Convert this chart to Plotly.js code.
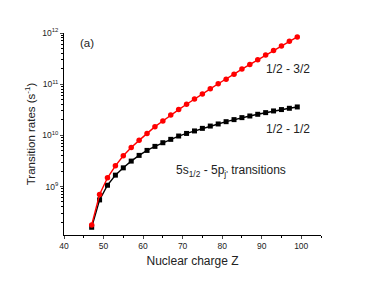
<!DOCTYPE html>
<html><head><meta charset="utf-8">
<script src="https://cdn.plot.ly/plotly-3.0.1.min.js"></script>
<style>html,body{margin:0;padding:0;background:#fff}</style>
</head><body><div id="g" style="width:374px;height:286px"></div>
<script>
const Z = [47,49,51,53,55,57,59,61,63,65,67,69,71,73,75,77,79,81,83,85,87,89,91,93,95,97,99];
const rate32 = [1.77e8,6.97e8,1.48e9,2.54e9,3.99e9,5.8e9,7.98e9,1.09e10,1.48e10,1.91e10,2.5e10,3.19e10,4.05e10,5.16e10,6.46e10,8.1e10,1.02e11,1.25e11,1.57e11,1.97e11,2.43e11,3.0e11,3.7e11,4.57e11,5.56e11,6.87e11,8.36e11];
const rate12 = [1.6e8,5.48e8,1.06e9,1.67e9,2.32e9,3.14e9,4.06e9,5.08e9,6.09e9,7.18e9,8.35e9,9.7e9,1.09e10,1.22e10,1.37e10,1.52e10,1.67e10,1.85e10,2.03e10,2.22e10,2.39e10,2.58e10,2.78e10,3.0e10,3.19e10,3.38e10,3.59e10];
const yTickVals = [1e9,1e10,1e11,1e12];
const yTickText = ['10<sup>9</sup>','10<sup>10</sup>','10<sup>11</sup>','10<sup>12</sup>'];
const xTickVals = [40,50,60,70,80,90,100];
const F = 'Liberation Sans, Arial, sans-serif';
const traces = [
 {x:Z,y:rate12,mode:'lines+markers',line:{color:'#000',width:1.4},marker:{symbol:'square',size:5,color:'#000'},name:'1/2 - 1/2'},
 {x:Z,y:rate32,mode:'lines+markers',line:{color:'#ff0000',width:1.4},marker:{symbol:'circle',size:5.5,color:'#ff0000'},name:'1/2 - 3/2'}
];
function ann(px,py,text,size){
 return {xref:'paper',yref:'paper',x:(px-64)/257,y:(235-py)/202,xanchor:'center',yanchor:'middle',text:text,showarrow:false,font:{size:size,family:F,color:'#222'}};
}
const layout = {
 width:374,height:286,showlegend:false,
 paper_bgcolor:'#fff',plot_bgcolor:'#fff',
 margin:{l:64,r:53,t:33,b:51},
 font:{family:F,color:'#222'},
 xaxis:{range:[40,105],tickvals:xTickVals,ticks:'outside',ticklen:3,tickwidth:1,showline:true,linecolor:'#000',linewidth:1,
  showgrid:false,zeroline:false,tickfont:{size:8.5,family:F,color:'#222'},
  minor:{tickvals:[45,55,65,75,85,95,105],ticks:'outside',ticklen:2,tickcolor:'#000'},
  title:{text:'Nuclear charge Z',font:{size:12,family:F,color:'#222'},standoff:6}},
 yaxis:{type:'log',range:[8.053,12.0],tickvals:yTickVals,ticktext:yTickText,ticks:'outside',ticklen:3,tickwidth:1,
  showline:true,linecolor:'#000',linewidth:1,showgrid:false,zeroline:false,tickfont:{size:8.5,family:F,color:'#222'},
  minor:{tickvals:[2e8,3e8,4e8,5e8,6e8,7e8,8e8,9e8,2e9,3e9,4e9,5e9,6e9,7e9,8e9,9e9,2e10,3e10,4e10,5e10,6e10,7e10,8e10,9e10,2e11,3e11,4e11,5e11,6e11,7e11,8e11,9e11],ticks:'outside',ticklen:2,tickcolor:'#000'},
  title:{text:'Transition rates (s<sup>-1</sup>)',font:{size:11.5,family:F,color:'#222'},standoff:4}},
 annotations:[
  ann(87,43,'(a)',11.5),
  ann(288,69,'1/2 - 3/2',12),
  ann(288,129,'1/2 - 1/2',12),
  ann(231,171,"5s<sub>1/2</sub> - 5p<sub>j'</sub> transitions",12)
 ]
};
Plotly.newPlot('g',traces,layout,{staticPlot:true,displayModeBar:false});
</script></body></html>
